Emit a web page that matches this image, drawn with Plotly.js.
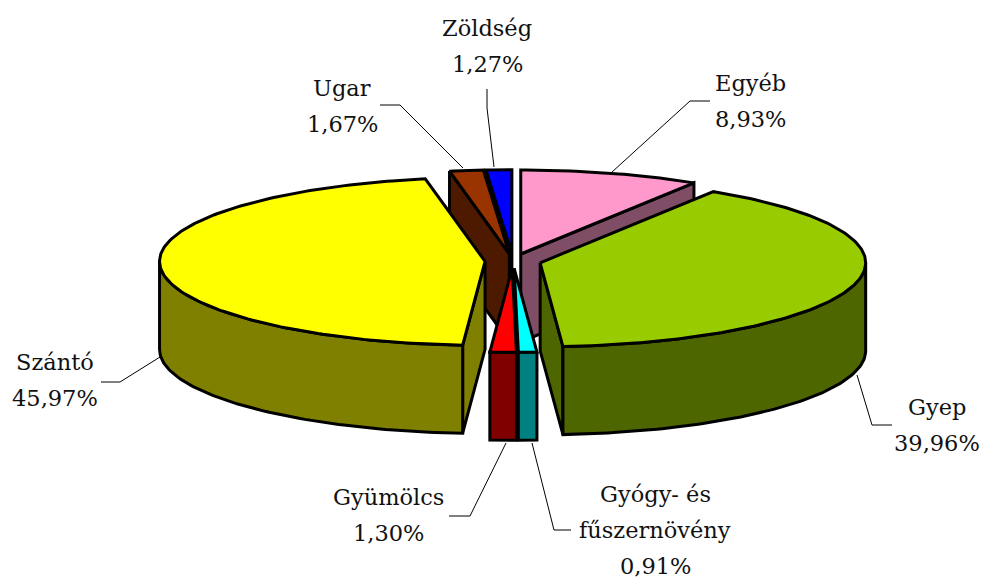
<!DOCTYPE html>
<html>
<head>
<meta charset="utf-8">
<script src="https://cdn.plot.ly/plotly-3.0.1.min.js"></script>
<style>html,body{margin:0;padding:0;background:#fff}#c{width:982px;height:581px}</style>
</head>
<body>
<div id="c"></div>
<script>
// Data, clockwise from 12 o'clock
const categories = ["Egyéb", "Gyep", "Gyógy- és fűszernövény", "Gyümölcs", "Szántó", "Ugar", "Zöldség"];
const values = [8.93, 39.96, 0.91, 1.30, 45.97, 1.67, 1.27];
const topColors = ["#FF99CC", "#99CC00", "#00FFFF", "#FF0000", "#FFFF00", "#993300", "#0000FF"];
const sideColors = ["#804D66", "#4D6600", "#008080", "#800000", "#808000", "#4D1A00", "#000080"];
const labelLines = [["Egyéb"], ["Gyep"], ["Gyógy- és", "fűszernövény"], ["Gyümölcs"], ["Szántó"], ["Ugar"], ["Zöldség"]];

// Projection of the tilted, exploded pie
const cx = 513, cy = 261, rx = 325.5, ry = 84, depth = 88, explodeX = 28, explodeY = 7.3;
const lineW = 3;
const drawOrder = [0, 6, 5, 4, 1, 2, 3]; // back to front

// Label placement: centre x and first-line centre y
const labelPos = [[750, 83], [937, 407], [655, 494], [388, 497], [55, 362], [342, 88], [487, 28]];
const lineStep = 36;
const leaders = [
  [[710, 690, 612], [101, 101, 172]],
  [[857, 872, 892], [375, 425, 425]],
  [[571, 554, 532], [530, 530, 443]],
  [[449, 470, 506], [516, 516, 443]],
  [[101, 120, 160], [382, 382, 357]],
  [[380, 400, 463], [105, 105, 168]],
  [[487, 487, 494], [89, 108, 167]]
];

const total = values.reduce((a, b) => a + b, 0);
const rad = d => d * Math.PI / 180;
let acc = 0;
const slices = values.map((v, i) => {
  const a0 = acc / total * 360; acc += v;
  const a1 = acc / total * 360;
  const mid = rad((a0 + a1) / 2);
  return {i, a0, a1, ax: cx + explodeX * Math.sin(mid), ay: cy - explodeY * Math.cos(mid)};
});
const rim = (s, a) => [s.ax + rx * Math.sin(rad(a)), s.ay - ry * Math.cos(rad(a))];

function poly(xs, ys, color) {
  return {type: "scatter", mode: "lines", x: xs.concat(xs[0]), y: ys.concat(ys[0]), fill: "toself",
    fillcolor: color, line: {color: "#000", width: lineW, shape: "linear"}, hoverinfo: "skip", showlegend: false};
}
function arc(s, a, b) {
  const pts = [], n = Math.max(2, Math.ceil(Math.abs(b - a)));
  for (let k = 0; k <= n; k++) pts.push(rim(s, a + (b - a) * k / n));
  return pts;
}
function radialWall(s, a) {
  const p = rim(s, a);
  return poly([s.ax, p[0], p[0], s.ax], [s.ay, p[1], p[1] + depth, s.ay + depth], sideColors[s.i]);
}
function outerWall(s) {
  const a = Math.max(s.a0, 90), b = Math.min(s.a1, 270);
  if (b <= a) return null;
  const top = arc(s, a, b), bot = top.slice().reverse().map(p => [p[0], p[1] + depth]);
  const all = top.concat(bot);
  return poly(all.map(p => p[0]), all.map(p => p[1]), sideColors[s.i]);
}
function topFace(s) {
  const all = [[s.ax, s.ay]].concat(arc(s, s.a0, s.a1));
  return poly(all.map(p => p[0]), all.map(p => p[1]), topColors[s.i]);
}

const traces = [];
drawOrder.forEach(i => {
  const s = slices[i];
  if (Math.sin(rad(s.a1)) > 0.01) traces.push(radialWall(s, s.a1));
  if (Math.sin(rad(s.a0)) < -0.01) traces.push(radialWall(s, s.a0));
  const w = outerWall(s);
  if (w) traces.push(w);
  traces.push(topFace(s));
});
leaders.forEach(l => traces.push({type: "scatter", mode: "lines", x: l[0], y: l[1],
  line: {color: "#000", width: 1}, hoverinfo: "skip", showlegend: false}));

const annotations = [];
categories.forEach((c, i) => {
  const pct = values[i].toFixed(2).replace(".", ",") + "%";
  labelLines[i].concat(pct).forEach((t, k) => annotations.push({
    x: labelPos[i][0], y: labelPos[i][1] + k * lineStep, xref: "x", yref: "y", text: t, showarrow: false,
    xanchor: "center", yanchor: "middle", font: {family: "DejaVu Serif", size: 22.5, color: "#111"}
  }));
});

Plotly.newPlot("c", traces, {
  width: 982, height: 581, margin: {l: 0, r: 0, t: 0, b: 0},
  paper_bgcolor: "#fff", plot_bgcolor: "#fff", showlegend: false,
  xaxis: {range: [0, 982], visible: false, fixedrange: true},
  yaxis: {range: [581, 0], visible: false, fixedrange: true},
  annotations
}, {displayModeBar: false, staticPlot: true});
</script>
</body>
</html>
